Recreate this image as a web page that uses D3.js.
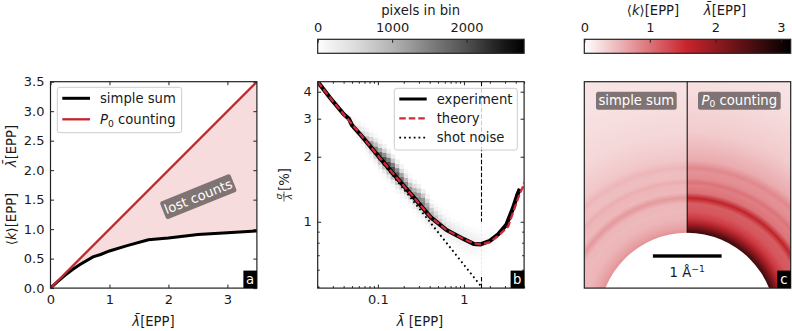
<!DOCTYPE html>
<html><head><meta charset="utf-8">
<script src="https://cdn.jsdelivr.net/npm/d3@7/dist/d3.min.js"></script>
<style>
html,body{margin:0;padding:0;background:#fff}
svg{display:block}
text{font-family:"DejaVu Sans",sans-serif;fill:#1a1a1a}
.tick text{font-size:13px;fill:#1a1a1a}
</style></head><body>
<svg id="c" width="792" height="331"></svg>
<script>
// Panel a
const sumLambda=[0,0.12,0.25,0.38,0.5,0.72,0.85,1,1.3,1.66,2,2.5,3,3.5];
const sumK=[0,0.11,0.22,0.32,0.4,0.53,0.57,0.63,0.72,0.82,0.85,0.91,0.94,0.97];
const p0Lambda=[0,3.5];
const p0Values=[0,3.5];
const aXTicks=[0,1,2,3];
const aYTicks=[0,0.5,1,1.5,2,2.5,3,3.5];
// Panel b
const theoryLambda=[0.02,0.0278,0.0475,0.068,0.106,0.165,0.26,0.41,0.63,1,1.3,1.56,2,2.5,3.26,3.8,4.4,4.9,5];
const theorySigma=[4.45,3.75,2.9,2.44,1.97,1.6,1.3,1.05,0.915,0.83,0.795,0.786,0.805,0.86,0.95,1.13,1.33,1.47,1.52];
const expLambda=[0.02,0.0278,0.04,0.046,0.05,0.068,0.106,0.165,0.26,0.41,0.63,1,1.3,1.55,2,2.5,3.12,3.7,4.2,4.47];
const expSigma=[4.45,3.75,3.15,3,2.8,2.44,1.97,1.6,1.3,1.05,0.915,0.83,0.79,0.785,0.815,0.875,0.97,1.15,1.34,1.42];
const shotLambda=[0.02,1.6];
const shotSigma=[4.47,0.5];
const markLambda=1.6;
const bXTicks=[0.1,1];
const bXMinor=[0.02,0.03,0.04,0.05,0.06,0.07,0.08,0.09,0.2,0.3,0.4,0.5,0.6,0.7,0.8,0.9,2,3,4,5];
const bYTicks=[1,2,3,4];
const bYMinor=[0.5,0.6,0.7,0.8,0.9];
const histLambda=[0.045,0.05,0.056,0.063,0.071,0.079,0.089,0.1,0.112,0.126,0.141,0.158,0.178,0.2,0.224,0.251,0.282,0.316,0.355,0.398,0.447,0.501,0.562,0.631,0.708,0.794,0.891,1,1.12,1.26,1.41,1.58,1.78,2,2.24];
const histOffsets=[-4,-3,-2,-1,0,1,2,3,4];
const histCounts=[
[0,0,0,30,100,100,30,0,0],[0,0,10,70,200,200,70,10,0],[0,5,30,130,350,350,130,30,5],[0,10,60,220,550,550,220,60,10],
[5,20,100,350,800,850,380,100,20],[5,30,150,500,1100,1200,600,180,30],[10,40,200,650,1300,1500,850,320,60],[10,50,250,760,1500,1800,1100,450,100],
[10,60,280,840,1600,1950,1350,600,140],[10,70,300,860,1700,2050,1500,700,180],[10,70,280,840,1600,2000,1500,720,200],[10,70,260,760,1500,1900,1400,650,170],
[10,60,220,680,1350,1650,1150,500,120],[10,50,200,600,1200,1400,900,350,90],[10,50,200,560,1100,1300,800,300,70],[10,50,190,550,1080,1350,950,420,100],
[10,60,190,540,1080,1400,1200,650,160],[10,60,190,520,1040,1450,1300,750,200],[10,60,170,460,920,1250,1050,550,130],[10,50,150,400,800,1000,700,300,70],
[10,45,130,340,680,800,480,180,40],[10,40,110,280,560,640,360,120,30],[10,35,100,220,440,480,260,100,20],[10,35,90,180,340,380,220,80,20],
[10,35,80,160,280,300,200,70,16],[10,35,80,150,240,260,170,70,16],[10,40,80,140,220,240,160,70,16],[10,40,80,140,200,220,150,60,12],
[10,40,80,130,190,200,140,60,12],[8,30,70,120,170,180,120,50,10],[6,20,50,90,140,140,90,30,6],[6,16,40,70,100,100,60,20,4],
[4,10,24,50,70,70,40,12,0],[0,6,16,30,40,40,20,6,0],[0,0,6,12,20,16,8,0,0]
];
const grayCounts=[0,100,500,1000,1500,2000,2500,2773];
const grayColors=["#ffffff","#f6f6f6","#dcdcdc","#b4b4b4","#808080","#505050","#181818","#000000"];
const grayTicks=[0,1000,2000];
// Panel c
const qBins=[1.284,1.34,1.41,1.5,1.6,1.71,1.79,1.87,1.97,2.02,2.08,2.17,2.23,2.34,2.74,3.46,3.79];
const simpleSum=[0.78,0.68,0.6,0.52,0.5,0.52,0.73,0.5,0.52,0.58,0.47,0.47,0.52,0.4,0.28,0.2,0.19];
const p0Counting=[2.7,2.35,1.85,1.4,1.2,1.15,1.62,1.0,0.92,1.0,0.82,0.78,0.85,0.6,0.37,0.22,0.2];
const redValues=[0,1.56,3.15];
const redColors=["#ffffff","#c8242c","#000000"];
const redTicks=[0,1,2,3];

const svg=d3.select("#c");
const ink="#222";
const F="DejaVu Sans";
const FS=13.2;
const defs=svg.append("defs");
function rich(sel,parts){parts.forEach(p=>{const t=sel.append("tspan").text(p.t);
  if(p.i)t.attr("font-style","italic");
  if(p.dy)t.attr("dy",p.dy);
  if(p.s)t.attr("font-size",p.s);});return sel;}
const LB=[{t:"λ̄",i:1},{t:"[EPP]"}];
function frame(g,w,h){g.append("rect").attr("width",w).attr("height",h).attr("fill","none").attr("stroke",ink).attr("stroke-width",1.2);}
function tag(g,w,h,l){
  g.append("rect").attr("x",w-13.5).attr("y",h-17.5).attr("width",13.5).attr("height",17.5).attr("fill","#000");
  g.append("text").attr("x",w-6.8).attr("y",h-4.5).attr("text-anchor","middle").attr("font-size",FS).style("fill","#fff").text(l);
}
function ax(g,axis,tr){const a=g.append("g").attr("transform",tr||"").call(axis);a.select(".domain").remove();
  a.selectAll(".tick line").attr("stroke",ink).attr("stroke-width",1);
  a.selectAll(".tick text").attr("font-family",F);return a;}

// ---------- Panel a
const PW=206.4,PH=206.4,TOP=81.7;
const ga=svg.append("g").attr("transform",`translate(50.5,${TOP})`);
const xa=d3.scaleLinear().domain([0,3.5]).range([0,PW]);
const ya=d3.scaleLinear().domain([0,3.5]).range([PH,0]);
const upper=d3.scaleLinear().domain(p0Lambda).range(p0Values);
defs.append("clipPath").attr("id","ca").append("rect").attr("width",PW).attr("height",PH);
const clipA=ga.append("g").attr("clip-path","url(#ca)");
clipA.append("path").datum(sumLambda.map((l,i)=>[l,sumK[i]]))
  .attr("fill","#f6dcdd")
  .attr("d",d3.area().x(d=>xa(d[0])).y0(d=>ya(d[1])).y1(d=>ya(upper(d[0]))));
clipA.append("path").datum(sumLambda.map((l,i)=>[l,sumK[i]])).attr("fill","none").attr("stroke","#000").attr("stroke-width",3)
  .attr("d",d3.line().x(d=>xa(d[0])).y(d=>ya(d[1])));
clipA.append("path").datum(p0Lambda.map((l,i)=>[l,p0Values[i]])).attr("fill","none").attr("stroke","#c8242c").attr("stroke-width",2.3)
  .attr("d",d3.line().x(d=>xa(d[0])).y(d=>ya(d[1])));
ax(ga,d3.axisBottom(xa).tickValues(aXTicks).tickFormat(d3.format("d")).tickSize(-3.5).tickPadding(7),`translate(0,${PH})`);
ax(ga,d3.axisLeft(ya).tickValues(aYTicks).tickFormat(d3.format(".1f")).tickSize(-3.5).tickPadding(6));
ax(ga,d3.axisTop(xa).tickValues(aXTicks).tickFormat("").tickSize(-3.5));
ax(ga,d3.axisRight(ya).tickValues(aYTicks).tickFormat("").tickSize(-3.5),`translate(${PW},0)`);
frame(ga,PW,PH);
// lost counts box
const lost=ga.append("g").attr("transform",`translate(147.8,115) rotate(-22)`);
lost.append("rect").attr("x",-38).attr("y",-9.5).attr("width",76).attr("height",19).attr("rx",2.5).attr("fill","#7f7473");
lost.append("text").attr("y",4.5).attr("text-anchor","middle").attr("font-size",FS).style("fill","#fff").text("lost counts");
// legend a
const la=ga.append("g");
la.append("rect").attr("x",6.8).attr("y",5.6).attr("width",124.4).attr("height",45.4).attr("rx",2.5).attr("fill","#fff").attr("fill-opacity",.8).attr("stroke","#ccc");
la.append("line").attr("x1",11.8).attr("x2",39.5).attr("y1",16.6).attr("y2",16.6).attr("stroke","#000").attr("stroke-width",3);
la.append("line").attr("x1",11.8).attr("x2",39.5).attr("y1",37.6).attr("y2",37.6).attr("stroke","#c8242c").attr("stroke-width",2.3);
la.append("text").attr("x",49.5).attr("y",21.5).attr("font-size",FS).text("simple sum");
rich(la.append("text").attr("x",49.5).attr("y",42.5).attr("font-size",FS),[{t:"P",i:1},{t:"0",dy:2.5,s:9.2},{t:" counting",dy:-2.5}]);
tag(ga,PW,PH,"a");
rich(svg.append("text").attr("x",153.5).attr("y",326).attr("text-anchor","middle").attr("font-size",FS),LB);
rich(svg.append("text").attr("transform","translate(15.5,146) rotate(-90)").attr("text-anchor","middle").attr("font-size",FS),LB);
rich(svg.append("text").attr("transform","translate(15.5,219) rotate(-90)").attr("text-anchor","middle").attr("font-size",FS),[{t:"⟨"},{t:"k",i:1},{t:"⟩[EPP]"}]);

// ---------- Panel b
const BX=317.7;
const gb=svg.append("g").attr("transform",`translate(${BX},${TOP})`);
const xb=d3.scaleLog().domain([0.02,5]).range([0,PW]);
const yb=d3.scaleLog().domain([0.493,4.45]).range([PH,0]);
const grayScale=d3.scaleLinear().domain(grayCounts).range(grayColors);
const curve=d3.scaleLog().domain(theoryLambda).range(theorySigma);
const binRatio=Math.pow(10,0.0194);
histLambda.forEach((l,i)=>{
  const next=i<histLambda.length-1?histLambda[i+1]:l*l/histLambda[i-1];
  const c=curve(Math.sqrt(l*next));
  histCounts[i].forEach((n,j)=>{
    if(!n)return;
    const k=histOffsets[j];
    const y0=yb(c*Math.pow(binRatio,k+.5)),y1=yb(c*Math.pow(binRatio,k-.5));
    gb.append("rect").attr("x",xb(l)).attr("width",xb(next)-xb(l)+.4).attr("y",y0).attr("height",y1-y0+.4).attr("fill",grayScale(n));
  });
});
const lineB=d3.line().x(d=>xb(d[0])).y(d=>yb(d[1]));
defs.append("clipPath").attr("id","cb").append("rect").attr("width",PW).attr("height",PH);
const clipB=gb.append("g").attr("clip-path","url(#cb)");
clipB.append("line").attr("x1",xb(markLambda)).attr("x2",xb(markLambda)).attr("y1",yb(1)).attr("y2",yb(0.555)).attr("stroke","#e4e4e4").attr("stroke-width",1).attr("stroke-dasharray","2 2");
clipB.append("line").attr("x1",xb(markLambda)).attr("x2",xb(markLambda)).attr("y1",0).attr("y2",yb(1)).attr("stroke","#000").attr("stroke-width",1.1).attr("stroke-dasharray","4.5 2");
clipB.append("line").attr("x1",xb(markLambda)).attr("x2",xb(markLambda)).attr("y1",yb(0.555)).attr("y2",PH).attr("stroke","#000").attr("stroke-width",1.1).attr("stroke-dasharray","4.5 2");
clipB.append("path").datum(shotLambda.map((l,i)=>[l,shotSigma[i]])).attr("fill","none").attr("stroke","#000").attr("stroke-width",1.8).attr("stroke-dasharray","1.8 3").attr("d",lineB);
clipB.append("path").datum(expLambda.map((l,i)=>[l,expSigma[i]])).attr("fill","none").attr("stroke","#000").attr("stroke-width",4.2).attr("d",lineB);
clipB.append("path").datum(theoryLambda.map((l,i)=>[l,theorySigma[i]])).attr("fill","none").attr("stroke","#d4283a").attr("stroke-width",2.3).attr("stroke-dasharray","6.5 3").attr("d",lineB);
ax(gb,d3.axisBottom(xb).tickValues(bXTicks).tickFormat(d3.format("~g")).tickSize(-3.5).tickPadding(7),`translate(0,${PH})`);
ax(gb,d3.axisBottom(xb).tickValues(bXMinor).tickFormat("").tickSize(-2),`translate(0,${PH})`);
ax(gb,d3.axisTop(xb).tickValues(bXTicks).tickFormat("").tickSize(-3.5));
ax(gb,d3.axisTop(xb).tickValues(bXMinor).tickFormat("").tickSize(-2));
ax(gb,d3.axisLeft(yb).tickValues(bYTicks).tickFormat(d3.format("d")).tickSize(-3.5).tickPadding(6));
ax(gb,d3.axisLeft(yb).tickValues(bYMinor).tickFormat("").tickSize(-2));
ax(gb,d3.axisRight(yb).tickValues(bYTicks).tickFormat("").tickSize(-3.5),`translate(${PW},0)`);
ax(gb,d3.axisRight(yb).tickValues(bYMinor).tickFormat("").tickSize(-2),`translate(${PW},0)`);
frame(gb,PW,PH);
const lb=gb.append("g");
lb.append("rect").attr("x",76.6).attr("y",6.6).attr("width",123).attr("height",61.7).attr("rx",2.5).attr("fill","#fff").attr("fill-opacity",.8).attr("stroke","#ccc");
lb.append("line").attr("x1",81.6).attr("x2",109).attr("y1",17.3).attr("y2",17.3).attr("stroke","#000").attr("stroke-width",3);
lb.append("line").attr("x1",81.6).attr("x2",109).attr("y1",36.6).attr("y2",36.6).attr("stroke","#d4283a").attr("stroke-width",2.3).attr("stroke-dasharray","6.5 3");
lb.append("line").attr("x1",81.6).attr("x2",109).attr("y1",56).attr("y2",56).attr("stroke","#000").attr("stroke-width",1.8).attr("stroke-dasharray","1.8 3");
["experiment","theory","shot noise"].forEach((t,i)=>lb.append("text").attr("x",119).attr("y",[22,41.4,60.8][i]).attr("font-size",FS).text(t));
tag(gb,PW,PH,"b");
rich(svg.append("text").attr("x",420).attr("y",326).attr("text-anchor","middle").attr("font-size",FS),[{t:"λ̄",i:1},{t:" [EPP]"}]);
// fraction label
const fr=svg.append("g").attr("transform","translate(284,191) rotate(-90)");
fr.append("text").attr("x",-5.5).attr("y",-2).attr("text-anchor","middle").attr("font-size",9.2).attr("font-style","italic").text("σ");
fr.append("text").attr("x",-5.5).attr("y",8).attr("text-anchor","middle").attr("font-size",9.2).attr("font-style","italic").text("λ̄");
fr.append("line").attr("x1",-10.5).attr("x2",-0.5).attr("y1",0).attr("y2",0).attr("stroke","#1a1a1a").attr("stroke-width",.7);
fr.append("text").attr("x",0).attr("y",4.6).attr("font-size",FS).text("[%]");

// ---------- Colorbars
const CBY=39.3,CBH=14;
function colorbar(id,x0,scale,dom,stops,ticks,fmt){
  const g=svg.append("g").attr("transform",`translate(${x0},${CBY})`);
  const x=d3.scaleLinear().domain(dom).range([0,PW]);
  const grad=defs.append("linearGradient").attr("id",id);
  stops.forEach(s=>grad.append("stop").attr("offset",x(s)/PW).attr("stop-color",scale(s)));
  g.append("rect").attr("width",PW).attr("height",CBH).attr("fill",`url(#${id})`);
  ax(g,d3.axisTop(x).tickValues(ticks).tickFormat(fmt).tickSize(-3.5).tickPadding(7));
  frame(g,PW,CBH);
  return g;
}
colorbar("gg",BX,grayScale,[0,2773],grayCounts,grayTicks,d3.format("d"));
svg.append("text").attr("x",420.7).attr("y",14.5).attr("text-anchor","middle").attr("font-size",FS).text("pixels in bin");
const redScale=d3.scaleLinear().domain(redValues).range(redColors);
const CX=584.3;
colorbar("rg",CX,redScale,[0,3.15],redValues,redTicks,d3.format("d"));
rich(svg.append("text").attr("x",653).attr("y",14.5).attr("text-anchor","middle").attr("font-size",FS),[{t:"⟨"},{t:"k",i:1},{t:"⟩[EPP]"}]);
rich(svg.append("text").attr("x",725).attr("y",14.5).attr("text-anchor","middle").attr("font-size",FS),LB);

// ---------- Panel c
const gc=svg.append("g").attr("transform",`translate(${CX},${TOP})`);
const cx=102.9,cy=239.3;
const rq=d3.scaleLinear().domain([0,1]).range([0,68.7]);
const qMax=qBins[qBins.length-1];
[["sg",simpleSum,0,cx],["pg",p0Counting,cx,PW-cx]].forEach(([id,vals,x,w])=>{
  const grad=defs.append("radialGradient").attr("id",id).attr("gradientUnits","userSpaceOnUse").attr("cx",cx).attr("cy",cy).attr("r",rq(qMax));
  qBins.forEach((q,i)=>grad.append("stop").attr("offset",q/qMax).attr("stop-color",redScale(vals[i])));
  gc.append("rect").attr("x",x).attr("width",w).attr("height",PH).attr("fill",`url(#${id})`);
});
defs.append("clipPath").attr("id","cc").append("rect").attr("width",PW).attr("height",PH);
gc.append("circle").attr("clip-path","url(#cc)").attr("cx",cx).attr("cy",cy).attr("r",rq(qBins[0])).attr("fill","#fff");
gc.append("line").attr("x1",cx).attr("x2",cx).attr("y1",0).attr("y2",cy-rq(qBins[0])).attr("stroke","#000").attr("stroke-width",1);
frame(gc,PW,PH);
[[11.7,80.7],[113.7,82.7]].forEach(([x,w])=>{
  gc.append("rect").attr("x",x).attr("y",10).attr("width",w).attr("height",18).attr("rx",2.5).attr("fill","#7f7473");
});
gc.append("text").attr("x",52).attr("y",23.5).attr("text-anchor","middle").attr("font-size",FS).style("fill","#fff").text("simple sum");
const pl=gc.append("text").attr("x",155).attr("y",23).attr("text-anchor","middle").attr("font-size",FS).style("fill","#fff");
rich(pl,[{t:"P",i:1},{t:"0",dy:2.5,s:9.2},{t:" counting",dy:-2.5}]);
pl.selectAll("tspan").style("fill","#fff");
gc.append("rect").attr("x",cx-34.3).attr("width",rq(1)).attr("y",172.6).attr("height",3.4).attr("fill","#000");
rich(gc.append("text").attr("x",cx).attr("y",195).attr("text-anchor","middle").attr("font-size",FS),[{t:"1 Å"},{t:"−1",dy:-4.5,s:9.2}]);
tag(gc,PW,PH,"c");
</script>
</body></html>
